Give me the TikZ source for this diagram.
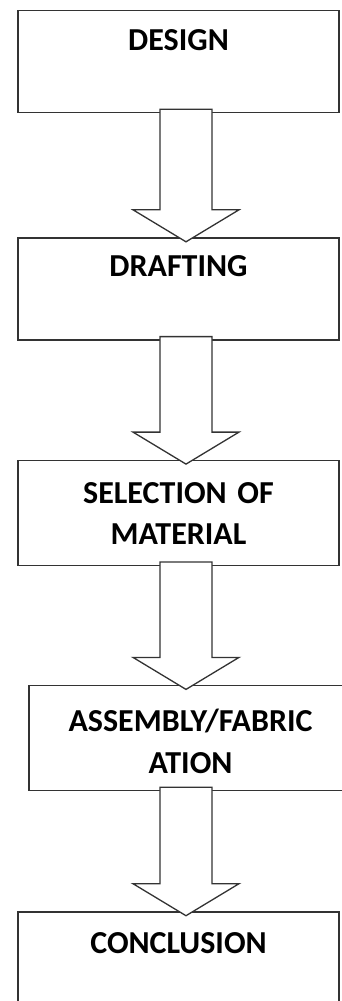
\documentclass[tikz,border=0pt]{standalone}
\usepackage{fontspec}
\setmainfont{Carlito}
\usetikzlibrary{positioning,calc}

\tikzset{
  box/.style={draw=black!80, line width=1.3pt, fill=white, minimum width=321pt,
    text width=310pt, align=center, inner sep=0pt,
    font=\bfseries\fontsize{32}{41.5}\selectfont},
  bigarrow/.style={draw=black!80, line width=1.3pt, fill=white,
    to path={let \p1=($(\tikztostart.south)+(#1,4pt)$),
                 \p2=($(\tikztostart.south |- \tikztotarget.north)+(#1,-4.5pt)$) in
      (\x1-26pt,\y1) -- (\x1-26pt,\y2+32pt) -- (\x1-53pt,\y2+32pt) -- (\x1,\y2)
      -- (\x1+53pt,\y2+32pt) -- (\x1+26pt,\y2+32pt) -- (\x1+26pt,\y1) -- cycle}},
  bigarrow/.default=7.5pt
}

\begin{document}
\begin{tikzpicture}

    \useasboundingbox (-178.5pt,10pt) rectangle (162.5pt,-991pt);

    % Add the boxes
    \node[box, anchor=north, text height=40pt, text depth=62pt] (design) at (0,0) {DESIGN};
    \node[box, below=124pt of design, text height=39pt, text depth=63pt] (drafting) {DRAFTING};
    \node[box, below=119pt of drafting, text height=43pt, text depth=62pt] (selection) {SELECTION OF\\MATERIAL};
    \node[box, below=119pt of selection, xshift=12pt, minimum width=323pt,
          text height=46pt, text depth=59pt] (assembly) {ASSEMBLY/FABRIC\\ATION};
    \node[box, below=120pt of assembly, xshift=-12pt, text height=42pt, text depth=62pt] (conclusion) {CONCLUSION};
    % Connect the boxes with block arrows
    \draw[bigarrow]         (design)    to (drafting);
    \draw[bigarrow]         (drafting)  to (selection);
    \draw[bigarrow]         (selection) to (assembly);
    \draw[bigarrow=-4.5pt]  (assembly)  to (conclusion);

\end{tikzpicture}
\end{document}
